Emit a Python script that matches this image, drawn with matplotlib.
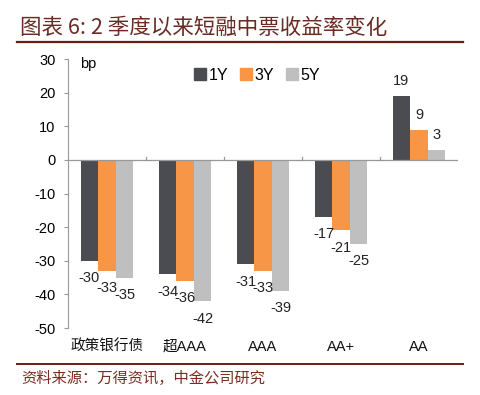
import numpy as np
import matplotlib
matplotlib.use("Agg")
import matplotlib.pyplot as plt
from matplotlib.lines import Line2D

plt.rcParams['font.family'] = ['Liberation Sans', 'Noto Sans CJK SC', 'DejaVu Sans']
plt.rcParams['axes.unicode_minus'] = False

categories = ["政策银行债", "超AAA", "AAA", "AA+", "AA"]
series_names = ["1Y", "3Y", "5Y"]
vals_1y = [-30, -34, -31, -17, 19]
vals_3y = [-33, -36, -33, -21, 9]
vals_5y = [-35, -42, -39, -25, 3]
colors = ["#4a4c51", "#f79646", "#bfbfbf"]

title_txt = "图表 6: 2 季度以来短融中票收益率变化"
source_txt = "资料来源：万得资讯，中金公司研究"

fig = plt.figure(figsize=(4.8, 3.95), dpi=100)
ax = fig.add_axes([0.1417, 0.1696, 0.8125, 0.681])

x = np.arange(len(categories))
w = 0.225
all_vals = [vals_1y, vals_3y, vals_5y]
for i, (vals, c) in enumerate(zip(all_vals, colors)):
    xs = x + (i - 1) * w
    ax.bar(xs, vals, width=w, color=c, zorder=2)
    for xi, v in zip(xs, vals):
        if v < 0:
            ax.annotate(str(v), (xi, v), xytext=(0, -7.5), textcoords="offset points",
                        ha="center", va="top", fontsize=10.5, color="#222222")
        else:
            ax.annotate(str(v), (xi, v), xytext=(0, 5.5), textcoords="offset points",
                        ha="center", va="bottom", fontsize=10.5, color="#222222")

ax.set_xlim(-0.5, len(categories) - 0.5)
ax.set_ylim(-50, 30)
ax.set_yticks(range(-50, 31, 10))
ax.tick_params(axis="y", labelsize=10.5, length=3, color="#999999", pad=6)
ax.set_xticks([])
for s in ["top", "right", "bottom"]:
    ax.spines[s].set_visible(False)
ax.spines["left"].set_color("#999999")
ax.axhline(0, color="#999999", lw=0.9, zorder=3)
for b in x[:-1] + 0.5:
    ax.plot([b, b], [0, 0.9], color="#999999", lw=0.9, zorder=3)
for xi, lab in zip(x, categories):
    ax.text(xi, -55.5, lab, ha="center", va="center", fontsize=10.5, color="#111111")
ax.text(-0.35, 28.5, "bp", ha="left", va="center", fontsize=10.5)

handles = [Line2D([0], [0], marker="s", ls="", color=c, markersize=8) for c in colors]
ax.legend(handles, series_names, loc="upper left", bbox_to_anchor=(0.28, 1.02), ncol=3,
          frameon=False, fontsize=11.5, handletextpad=0.05, columnspacing=0.6, handlelength=1.0)

fig.text(0.042, 0.93, title_txt, fontsize=15.5, color="#6b2a22", ha="left", va="center",
         family=['Noto Sans CJK SC', 'DejaVu Sans'])
fig.add_artist(Line2D([0.035, 0.965], [0.893, 0.893], color="#6b1c16", lw=1.6))
fig.add_artist(Line2D([0.035, 0.965], [0.078, 0.078], color="#6b1c16", lw=1.4))
fig.text(0.045, 0.042, source_txt, fontsize=11, color="#7b2d20", ha="left", va="center",
         family=['Noto Sans CJK SC', 'DejaVu Sans'])

fig.savefig("out.png", dpi=100)
